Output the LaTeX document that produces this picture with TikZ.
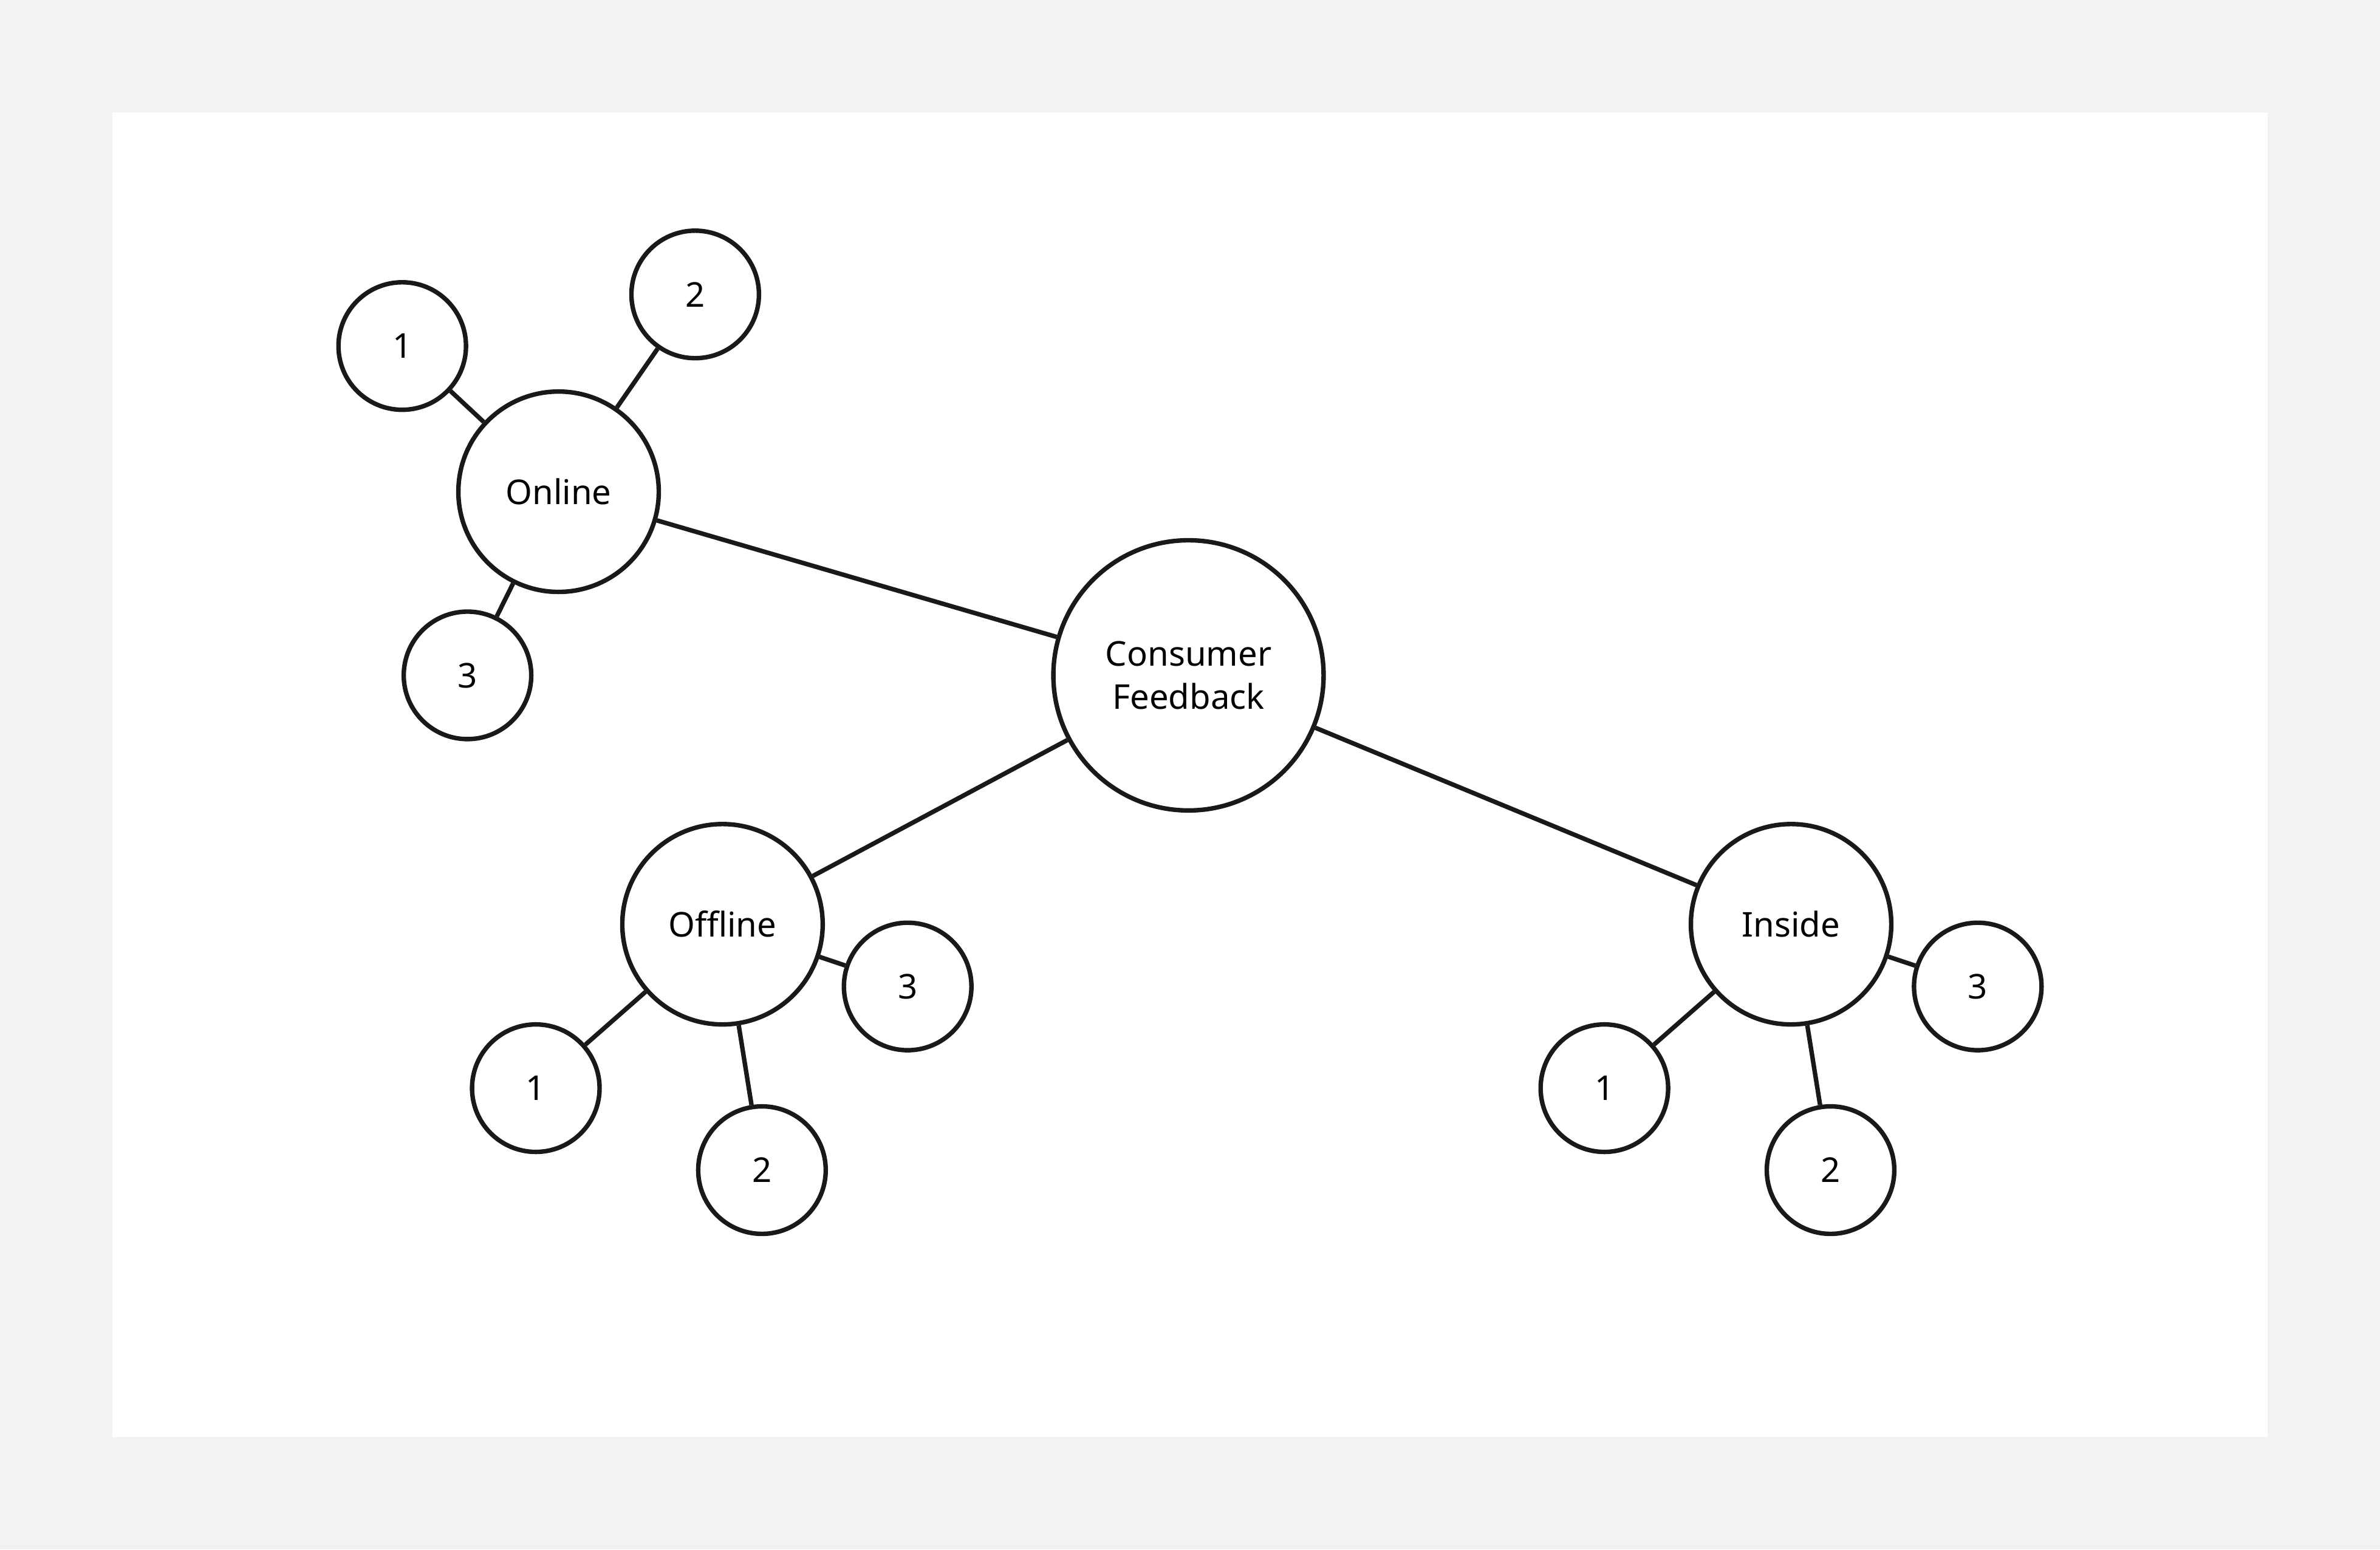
\documentclass[tikz,border=0pt]{standalone}
\usepackage{fontspec}
\setmainfont{Noto Sans}
\begin{document}
\begin{tikzpicture}[x=0.025cm,y=-0.025cm,
  bub/.style={circle,draw=black!90,line width=2.1pt,fill=white,inner sep=0pt,font=\fontsize{16}{20}\selectfont,align=center},
  big/.style={bub,minimum size=4.45cm},
  mid/.style={bub,minimum size=3.3cm},
  sml/.style={bub,minimum size=2.1cm},
  lnk/.style={line width=2.1pt,draw=black!90}]
\fill[black!5] (0,0) rectangle (1568,1021);
\fill[white] (74,74) rectangle (1494,947);
\useasboundingbox (0,0) rectangle (1568,1021);
\node[big] (cf) at (783,445) {Consumer\\ Feedback};
\node[mid] (on) at (368,324) {Online};
\node[mid] (of) at (476,609) {Offline};
\node[mid] (in) at (1180,609) {Inside};
\node[sml] (on1) at (265,228) {1};
\node[sml] (on2) at (458,194) {2};
\node[sml] (on3) at (308,445) {3};
\node[sml] (of1) at (353,717) {1};
\node[sml] (of2) at (502,771) {2};
\node[sml] (of3) at (598,650) {3};
\node[sml] (in1) at (1057,717) {1};
\node[sml] (in2) at (1206,771) {2};
\node[sml] (in3) at (1303,650) {3};
\foreach \a/\b in {cf/on,cf/of,cf/in,on/on1,on/on2,on/on3,of/of1,of/of2,of/of3,in/in1,in/in2,in/in3}
  \draw[lnk] (\a) -- (\b);
\end{tikzpicture}
\end{document}
